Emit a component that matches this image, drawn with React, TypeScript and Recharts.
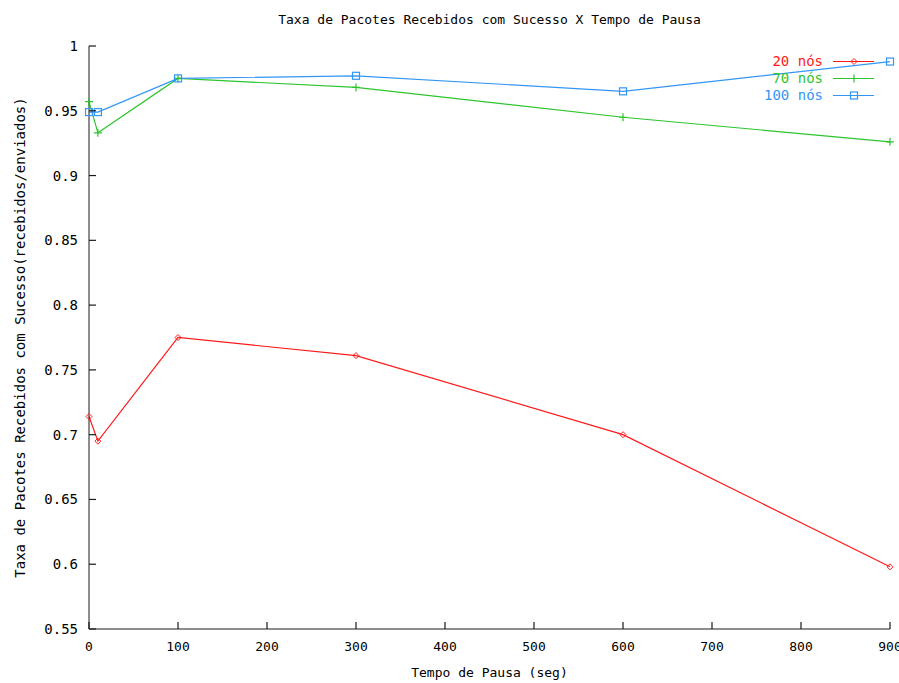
import { LineChart, Line, XAxis, YAxis, Legend } from "recharts";

const pauseTimes = [0, 10, 100, 300, 600, 900];
const nos20 = [0.714, 0.695, 0.775, 0.761, 0.7, 0.598];
const nos70 = [0.957, 0.933, 0.975, 0.968, 0.945, 0.926];
const nos100 = [0.949, 0.949, 0.975, 0.977, 0.965, 0.988];
const xTicks = [0, 100, 200, 300, 400, 500, 600, 700, 800, 900];
const yTicks = [0.55, 0.6, 0.65, 0.7, 0.75, 0.8, 0.85, 0.9, 0.95, 1];
const seriesOrder = ["n20", "n70", "n100"];

const data = pauseTimes.map((t, i) => ({
  t,
  n20: nos20[i],
  n70: nos70[i],
  n100: nos100[i],
}));

const FONT = "'DejaVu Sans Mono', monospace";
const RED = "#ff1a1a";
const GREEN = "#2ec42e";
const BLUE = "#3396f5";
const AXIS = "#1a1a1a";
const TICK_LEN = 7;

const diamond = (cx: number, cy: number, c: string) => (
  <path
    d={`M${cx} ${cy - 3}L${cx + 3} ${cy}L${cx} ${cy + 3}L${cx - 3} ${cy}Z`}
    fill="none"
    stroke={c}
    strokeWidth={1}
  />
);
const plus = (cx: number, cy: number, c: string) => (
  <path d={`M${cx - 4} ${cy}H${cx + 4}M${cx} ${cy - 4}V${cy + 4}`} stroke={c} strokeWidth={1.2} />
);
const square = (cx: number, cy: number, c: string) => (
  <rect x={cx - 3.5} y={cy - 3.5} width={7} height={7} fill="none" stroke={c} strokeWidth={1.2} />
);

const markers: Record<string, (cx: number, cy: number, c: string) => any> = {
  n20: diamond,
  n70: plus,
  n100: square,
};

const dotFor = (key: string) => (p: any) => {
  const { cx = 0, cy = 0, stroke = "#000", index } = p;
  return <g key={`${key}-${index}`}>{markers[key](cx, cy, stroke)}</g>;
};

const fmtY = (v: number) => String(Number(v.toFixed(2)));

// inward tick marks (gnuplot style) drawn together with the labels
const BOTTOM_GAP = 13;
const LEFT_GAP = 11;

function BottomTick(props: any) {
  const { x, y, payload } = props;
  const base = y - BOTTOM_GAP;
  return (
    <g>
      <line x1={x} y1={base} x2={x} y2={base - TICK_LEN} stroke={AXIS} strokeWidth={1.2} />
      <text x={x} y={y} dy="0.71em" textAnchor="middle" fill="#000" fontSize={13} fontFamily={FONT}>
        {payload.value}
      </text>
    </g>
  );
}

function TopTick(props: any) {
  const { x, y } = props;
  return <line x1={x} y1={y} x2={x} y2={y + TICK_LEN} stroke={AXIS} strokeWidth={1.2} />;
}

function LeftTick(props: any) {
  const { x, y, payload } = props;
  const base = x + LEFT_GAP;
  return (
    <g>
      <line x1={base} y1={y} x2={base + TICK_LEN} y2={y} stroke={AXIS} strokeWidth={1.2} />
      <text x={x} y={y} dy="0.355em" textAnchor="end" fill="#000" fontSize={14} fontFamily={FONT}>
        {fmtY(payload.value)}
      </text>
    </g>
  );
}

function RightTick(props: any) {
  const { x, y } = props;
  return <line x1={x} y1={y} x2={x - TICK_LEN} y2={y} stroke={AXIS} strokeWidth={1.2} />;
}

function LegendBox({ payload }: { payload?: any[] }) {
  const items = [...(payload || [])].sort(
    (a, b) => seriesOrder.indexOf(a.dataKey) - seriesOrder.indexOf(b.dataKey)
  );
  return (
    <div style={{ fontFamily: FONT, fontSize: 14 }}>
      {items.map((item) => (
        <div key={item.value} style={{ display: "flex", alignItems: "center", height: 17 }}>
          <span style={{ width: 123, textAlign: "right", color: item.color, lineHeight: "17px" }}>
            {item.value}
          </span>
          <svg width={41} height={17} style={{ marginLeft: 10 }}>
            <line x1={0} y1={8.5} x2={41} y2={8.5} stroke={item.color} strokeWidth={1.2} />
            {markers[item.dataKey](21, 8.5, item.color)}
          </svg>
        </div>
      ))}
    </div>
  );
}

export default function App() {
  return (
    <div
      style={{
        position: "absolute",
        left: 0,
        top: 0,
        width: 899,
        height: 683,
        overflow: "hidden",
        background: "#fff",
      }}
    >
      <div
        style={{
          position: "absolute",
          left: 89,
          width: 801,
          top: 12,
          lineHeight: "16px",
          textAlign: "center",
          fontFamily: FONT,
          fontSize: 13,
          color: "#000",
        }}
      >
        Taxa de Pacotes Recebidos com Sucesso X Tempo de Pausa
      </div>
      <LineChart
        width={899}
        height={683}
        data={data}
        margin={{ top: 46, right: 9, left: 0, bottom: 0 }}
        style={{ fontFamily: FONT }}
      >
        <XAxis
          xAxisId="bottom"
          dataKey="t"
          type="number"
          domain={[0, 900]}
          ticks={xTicks}
          interval={0}
          height={54}
          tickSize={0}
          tickMargin={BOTTOM_GAP}
          axisLine={{ stroke: AXIS }}
          tickLine={false}
          tick={BottomTick}
          label={{
            value: "Tempo de Pausa (seg)",
            position: "center",
            dy: 16,
            fill: "#000",
            fontSize: 13,
          }}
        />
        <XAxis
          xAxisId="top"
          orientation="top"
          dataKey="t"
          type="number"
          domain={[0, 900]}
          ticks={xTicks}
          interval={0}
          height={0}
          tickSize={0}
          tickMargin={0}
          axisLine={{ stroke: AXIS }}
          tickLine={false}
          tick={TopTick}
        />
        <YAxis
          yAxisId="left"
          type="number"
          domain={[0.55, 1]}
          ticks={yTicks}
          interval={0}
          width={89}
          tickSize={0}
          tickMargin={LEFT_GAP}
          axisLine={{ stroke: AXIS }}
          tickLine={false}
          tick={LeftTick}
          label={{
            value: "Taxa de Pacotes Recebidos com Sucesso(recebidos/enviados)",
            angle: -90,
            position: "center",
            dx: -24,
            fill: "#000",
            fontSize: 14,
          }}
        />
        <YAxis
          yAxisId="right"
          orientation="right"
          type="number"
          domain={[0.55, 1]}
          ticks={yTicks}
          interval={0}
          width={0}
          tickSize={0}
          tickMargin={0}
          axisLine={{ stroke: AXIS }}
          tickLine={false}
          tick={RightTick}
        />
        <Legend
          layout="vertical"
          align="center"
          verticalAlign="middle"
          wrapperStyle={{ position: "absolute", left: 700, top: 53, width: 190, height: "auto" }}
          content={(props: any) => <LegendBox payload={props.payload} />}
        />
        <Line
          xAxisId="bottom"
          yAxisId="left"
          dataKey="n20"
          name="20 nós"
          stroke={RED}
          strokeWidth={1.2}
          dot={dotFor("n20")}
          isAnimationActive={false}
        />
        <Line
          xAxisId="bottom"
          yAxisId="left"
          dataKey="n70"
          name="70 nós"
          stroke={GREEN}
          strokeWidth={1.2}
          dot={dotFor("n70")}
          isAnimationActive={false}
        />
        <Line
          xAxisId="bottom"
          yAxisId="left"
          dataKey="n100"
          name="100 nós"
          stroke={BLUE}
          strokeWidth={1.2}
          dot={dotFor("n100")}
          isAnimationActive={false}
        />
      </LineChart>
    </div>
  );
}
